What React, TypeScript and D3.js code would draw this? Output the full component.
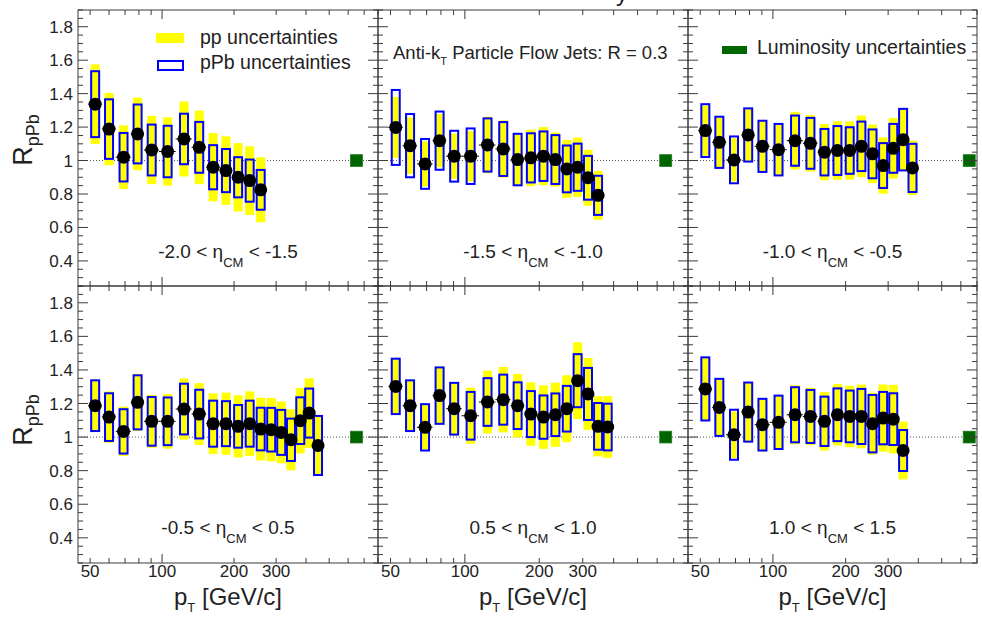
import * as d3 from "d3";

// pT bin edges (GeV/c), points sit at the bin centres
const binEdges = [49, 56, 64, 74, 84, 97, 114, 133, 153, 174, 196, 220, 245, 272, 300, 330, 362, 395, 430, 468];

const etaLow = ["-2.0", "-1.5", "-1.0", "-0.5", "0.5", "1.0"];
const etaHigh = ["-1.5", "-1.0", "-0.5", "0.5", "1.0", "1.5"];

// -2.0 < eta < -1.5
const rEta1 = [1.337, 1.188, 1.02, 1.159, 1.063, 1.054, 1.129, 1.079, 0.96, 0.94, 0.9, 0.88, 0.825];
const ppErrEta1 = [0.238, 0.216, 0.19, 0.217, 0.204, 0.204, 0.224, 0.22, 0.204, 0.205, 0.204, 0.205, 0.194];
const pPbErrEta1 = [0.197, 0.178, 0.145, 0.176, 0.152, 0.154, 0.151, 0.152, 0.132, 0.129, 0.12, 0.126, 0.119];

// -1.5 < eta < -1.0
const rEta2 = [1.198, 1.089, 0.98, 1.119, 1.026, 1.026, 1.093, 1.069, 1.006, 1.016, 1.026, 1.006, 0.95, 0.96, 0.897, 0.792];
const ppErrEta2 = [0.182, 0.169, 0.135, 0.159, 0.135, 0.15, 0.169, 0.171, 0.154, 0.169, 0.174, 0.162, 0.173, 0.177, 0.167, 0.146];
const pPbErrEta2 = [0.224, 0.189, 0.149, 0.174, 0.152, 0.166, 0.159, 0.161, 0.154, 0.147, 0.148, 0.146, 0.14, 0.141, 0.131, 0.117];

// -1.0 < eta < -0.5
const rEta3 = [1.179, 1.109, 1.004, 1.153, 1.085, 1.065, 1.119, 1.103, 1.05, 1.06, 1.06, 1.085, 1.04, 0.97, 1.073, 1.125, 0.956];
const ppErrEta3 = [0.15, 0.15, 0.13, 0.16, 0.15, 0.155, 0.172, 0.169, 0.168, 0.175, 0.174, 0.184, 0.175, 0.168, 0.181, 0.187, 0.163];
const pPbErrEta3 = [0.158, 0.153, 0.14, 0.159, 0.153, 0.154, 0.15, 0.152, 0.139, 0.146, 0.139, 0.148, 0.146, 0.134, 0.146, 0.184, 0.144];

// -0.5 < eta < 0.5
const rEta4 = [1.187, 1.119, 1.034, 1.207, 1.094, 1.094, 1.167, 1.137, 1.08, 1.08, 1.064, 1.08, 1.048, 1.044, 1.028, 0.984, 1.098, 1.143, 0.95];
const ppErrEta4 = [0.157, 0.153, 0.147, 0.17, 0.158, 0.163, 0.182, 0.184, 0.18, 0.185, 0.185, 0.192, 0.187, 0.189, 0.184, 0.182, 0.195, 0.207, 0.177];
const pPbErrEta4 = [0.151, 0.142, 0.132, 0.161, 0.145, 0.142, 0.151, 0.145, 0.137, 0.134, 0.127, 0.137, 0.127, 0.13, 0.134, 0.126, 0.139, 0.146, 0.176];

// 0.5 < eta < 1.0
const rEta5 = [1.302, 1.187, 1.058, 1.247, 1.169, 1.127, 1.209, 1.223, 1.187, 1.137, 1.119, 1.133, 1.169, 1.336, 1.257, 1.064, 1.06];
const ppErrEta5 = [0.167, 0.156, 0.132, 0.173, 0.159, 0.167, 0.187, 0.195, 0.189, 0.189, 0.189, 0.191, 0.199, 0.229, 0.214, 0.179, 0.184];
const pPbErrEta5 = [0.165, 0.151, 0.138, 0.168, 0.154, 0.142, 0.142, 0.149, 0.139, 0.137, 0.129, 0.127, 0.136, 0.158, 0.155, 0.139, 0.139];

// 1.0 < eta < 1.5
const rEta6 = [1.287, 1.177, 1.014, 1.149, 1.074, 1.088, 1.133, 1.123, 1.094, 1.133, 1.123, 1.123, 1.08, 1.113, 1.107, 0.92];
const ppErrEta6 = [0.185, 0.17, 0.139, 0.18, 0.159, 0.162, 0.176, 0.171, 0.174, 0.183, 0.183, 0.19, 0.184, 0.2, 0.204, 0.172];
const pPbErrEta6 = [0.188, 0.17, 0.149, 0.176, 0.154, 0.159, 0.164, 0.158, 0.147, 0.157, 0.154, 0.164, 0.171, 0.156, 0.154, 0.122];

const lumiPt = 650;
const lumiErr = 0.035;

const yTickLabels = [0.4, 0.6, 0.8, 1, 1.2, 1.4, 1.6, 1.8];
const xTickValues = [50, 60, 70, 80, 90, 100, 200, 300, 400, 500, 600, 700, 800];
const xTickLabels = [50, 100, 200, 300];

const FONT = "'Liberation Sans', Arial, Helvetica, sans-serif";
const W = 982;
const H = 618;

const columns = [
  { x0: 78, x1: 378, xMax: 800 },
  { x0: 378, x1: 688, xMax: 800 },
  { x0: 688, x1: 977, xMax: 700 },
];
const rows = [
  { y0: 10, y1: 286 },
  { y0: 286, y1: 563 },
];

const panelData = [
  { r: rEta1, pp: ppErrEta1, pPb: pPbErrEta1 },
  { r: rEta2, pp: ppErrEta2, pPb: pPbErrEta2 },
  { r: rEta3, pp: ppErrEta3, pPb: pPbErrEta3 },
  { r: rEta4, pp: ppErrEta4, pPb: pPbErrEta4 },
  { r: rEta5, pp: ppErrEta5, pPb: pPbErrEta5 },
  { r: rEta6, pp: ppErrEta6, pPb: pPbErrEta6 },
];

const frameColor = "#3a3a3a";

function Panel({ idx }: { idx: number }) {
  const col = columns[idx % 3];
  const row = rows[Math.floor(idx / 3)];
  const isBottom = idx >= 3;
  const d = panelData[idx];

  const x = d3.scaleLog().domain([44.5, col.xMax]).range([col.x0, col.x1]);
  const y = d3.scaleLinear().domain([0.25, 1.9]).range([row.y1, row.y0]);

  const yMinor = d3.range(0.25, 1.9001, 0.05);
  const xt = xTickValues.filter(v => v <= col.xMax);
  const cx = (col.x0 + col.x1) / 2;

  const points = d.r.map((v, i) => ({
    lo: binEdges[i],
    hi: binEdges[i + 1],
    c: (binEdges[i] + binEdges[i + 1]) / 2,
    v,
    pp: d.pp[i],
    pPb: d.pPb[i],
  }));

  return (
    <g>
      {/* reference line at 1 */}
      <line x1={col.x0} x2={col.x1} y1={y(1)} y2={y(1)} stroke="#555" strokeWidth={1} strokeDasharray="1,2" />

      {/* pp uncertainty boxes */}
      {points.map((p, i) => (
        <rect key={"pp" + i} x={x(p.c) - 4.5} width={9} y={y(p.v + p.pp)} height={y(p.v - p.pp) - y(p.v + p.pp)} fill="#ffff00" />
      ))}
      {/* pPb uncertainty boxes */}
      {points.map((p, i) => (
        <rect key={"pb" + i} x={x(p.c) - 4} width={8} y={y(p.v + p.pPb)} height={y(p.v - p.pPb) - y(p.v + p.pPb)} fill="none" stroke="#0000ff" strokeWidth={2} />
      ))}
      {/* bin width */}
      {points.map((p, i) => (
        <line key={"bw" + i} x1={x(p.lo)} x2={x(p.hi)} y1={y(p.v)} y2={y(p.v)} stroke="#000" strokeWidth={1} />
      ))}
      {points.map((p, i) => (
        <circle key={"m" + i} cx={x(p.c)} cy={y(p.v)} r={6.5} fill="#000" />
      ))}

      {/* luminosity box */}
      <rect x={x(lumiPt) - 6} width={12} y={y(1 + lumiErr)} height={y(1 - lumiErr) - y(1 + lumiErr)} fill="#006400" stroke="#1d7a1d" strokeWidth={0.8} />

      {/* frame */}
      <rect x={col.x0} y={row.y0} width={col.x1 - col.x0} height={row.y1 - row.y0} fill="none" stroke={frameColor} strokeWidth={1} />

      {/* y ticks left and right */}
      {yMinor.map((v, i) => {
        const major = Math.abs(v * 5 - Math.round(v * 5)) < 1e-6;
        const len = major ? 10 : 5;
        const yy = y(v);
        return (
          <g key={"yt" + i}>
            <line x1={col.x0} x2={col.x0 + len} y1={yy} y2={yy} stroke={frameColor} />
            <line x1={col.x1} x2={col.x1 - len} y1={yy} y2={yy} stroke={frameColor} />
          </g>
        );
      })}
      {/* x ticks bottom and top */}
      {xt.map((v, i) => {
        const len = v === 100 ? 9 : 5;
        const xx = x(v);
        return (
          <g key={"xt" + i}>
            <line x1={xx} x2={xx} y1={row.y1} y2={row.y1 - len} stroke={frameColor} />
            <line x1={xx} x2={xx} y1={row.y0} y2={row.y0 + len} stroke={frameColor} />
          </g>
        );
      })}

      {/* y labels */}
      {idx % 3 === 0 &&
        yTickLabels.map((v, i) => (
          <text key={"yl" + i} x={col.x0 - 5} y={y(v) + 6} textAnchor="end" fontSize={17} fontFamily={FONT} fill="#222">
            {String(v)}
          </text>
        ))}
      {idx % 3 === 0 && (
        <text transform={`translate(32,${isBottom ? 420 : 140}) rotate(-90)`} textAnchor="middle" fontSize={27} fontFamily={FONT} fill="#222">
          R<tspan dy={7} fontSize={18}>pPb</tspan>
        </text>
      )}

      {/* x labels */}
      {isBottom &&
        xTickLabels.map((v, i) => (
          <text key={"xl" + i} x={x(v)} y={577} textAnchor="middle" fontSize={17} fontFamily={FONT} fill="#222">
            {String(v)}
          </text>
        ))}
      {isBottom && (
        <text x={cx} y={605} textAnchor="middle" fontSize={24} fontFamily={FONT} fill="#222">
          p<tspan dy={7} fontSize={13}>T</tspan>
          <tspan dy={-7}> [GeV/c]</tspan>
        </text>
      )}

      {/* eta range label */}
      <text x={cx} y={y(0.42)} textAnchor="middle" fontSize={19} fontFamily={FONT} fill="#222">
        {etaLow[idx]} &lt; η<tspan dy={9} fontSize={13}>CM</tspan>
        <tspan dy={-9}> &lt; {etaHigh[idx]}</tspan>
      </text>
    </g>
  );
}

export default function App() {
  return (
    <svg width={W} height={H} style={{ position: "absolute", left: 0, top: 0, background: "#fff" }}>
      <rect width={W} height={H} fill="#fff" />
      <text x={628} y={1} textAnchor="end" fontSize={24} fontFamily={FONT} fill="#222">y</text>
      {[0, 1, 2, 3, 4, 5].map(i => (
        <Panel key={i} idx={i} />
      ))}

      {/* legend */}
      <rect x={156} y={33} width={28} height={10} fill="#ffff00" />
      <text x={200} y={44} fontSize={19.5} fontFamily={FONT} fill="#222">pp uncertainties</text>
      <rect x={158} y={61} width={25} height={9} fill="none" stroke="#0000ff" strokeWidth={2} />
      <text x={200} y={69} fontSize={19.5} fontFamily={FONT} fill="#222">pPb uncertainties</text>

      <text x={393} y={59} fontSize={18.5} fontFamily={FONT} fill="#222">
        Anti-k<tspan dy={6} fontSize={11}>T</tspan>
        <tspan dy={-6}> Particle Flow Jets: R = 0.3</tspan>
      </text>

      <rect x={722} y={46} width={25} height={8} fill="#006400" />
      <text x={757} y={54} fontSize={19.5} fontFamily={FONT} fill="#222">Luminosity uncertainties</text>
    </svg>
  );
}
